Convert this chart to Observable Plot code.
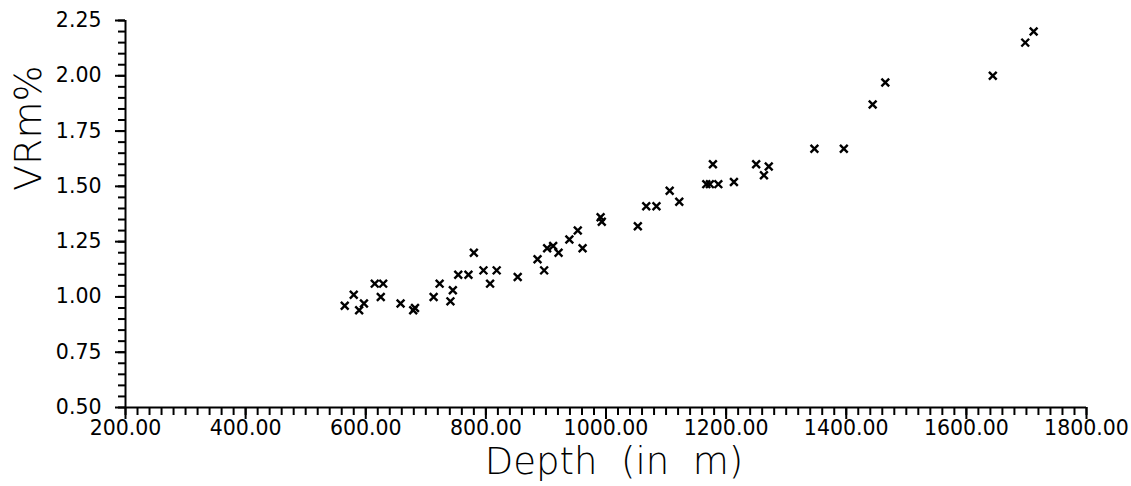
<!DOCTYPE html>
<html>
<head>
<meta charset="utf-8">
<script src="https://cdn.jsdelivr.net/npm/d3@7"></script>
<script src="https://cdn.jsdelivr.net/npm/@observablehq/plot@0.6"></script>
<style>
  html, body { margin: 0; padding: 0; background: #fff; }
  svg text.ttl { white-space: pre; }
</style>
</head>
<body>
<div id="chart"></div>
<script>
// Depth (m) of each sample
const depth = [565, 580, 589, 597, 615, 629, 625, 658, 679, 682,
  713, 723, 741, 745, 754, 771, 780, 796, 807, 818,
  853, 886, 897, 902, 912, 921, 939, 953, 961, 991,
  993, 1053, 1067, 1084, 1106, 1122, 1167, 1173, 1178, 1187,
  1213, 1250, 1263, 1271, 1347, 1396, 1444, 1465, 1644, 1698, 1712];
// Vitrinite reflectance VRm%
const vrm = [0.96, 1.01, 0.94, 0.97, 1.06, 1.06, 1.00, 0.97, 0.94, 0.95,
  1.00, 1.06, 0.98, 1.03, 1.10, 1.10, 1.20, 1.12, 1.06, 1.12,
  1.09, 1.17, 1.12, 1.22, 1.23, 1.20, 1.26, 1.30, 1.22, 1.36,
  1.34, 1.32, 1.41, 1.41, 1.48, 1.43, 1.51, 1.51, 1.60, 1.51,
  1.52, 1.60, 1.55, 1.59, 1.67, 1.67, 1.87, 1.97, 2.00, 2.15, 2.20];

const xMajor = [200, 400, 600, 800, 1000, 1200, 1400, 1600, 1800];
const xMinor = d3.range(200, 1801, 20);
const yMajor = [0.50, 0.75, 1.00, 1.25, 1.50, 1.75, 2.00, 2.25];
const yMinor = d3.range(0, 36).map(i => +(0.5 + i * 0.05).toFixed(2));
const xTitle = ["Depth  (in  m)"];
const yTitle = ["VRm%"];

const rows = depth.map((d, i) => ({depth: d, vrm: vrm[i]}));

const font = "DejaVu Sans";
const chart = Plot.plot({
  width: 1131,
  height: 486,
  marginLeft: 125,
  marginRight: 45,
  marginTop: 20,
  marginBottom: 79,
  style: {fontFamily: font, background: "#fff", color: "#000"},
  x: {domain: [200, 1800], axis: null},
  y: {domain: [0.5, 2.25], axis: null},
  marks: [
    Plot.axisX({ticks: xMinor, tickSize: 8, tickFormat: () => "", strokeWidth: 2, label: null}),
    Plot.axisX({ticks: xMajor, tickSize: 12, tickPadding: 1, tickFormat: d => d.toFixed(2), fontSize: 20.5, strokeWidth: 2, label: null}),
    Plot.axisY({ticks: yMinor, tickSize: 7, tickFormat: () => "", strokeWidth: 2, label: null}),
    Plot.axisY({ticks: yMajor, tickSize: 10, tickPadding: 14, tickFormat: d => d.toFixed(2), fontSize: 20.5, strokeWidth: 2, label: null}),
    Plot.ruleY([0.5], {strokeWidth: 2}),
    Plot.ruleX([200], {strokeWidth: 2}),
    Plot.dot(rows, {x: "depth", y: "vrm", symbol: "times", r: 3.6, stroke: "#000", strokeWidth: 2.4}),
    Plot.text(xTitle, {frameAnchor: "bottom", dx: 8, dy: 55, fontSize: 37, fontWeight: 300, className: "ttl", lineAnchor: "middle"}),
    Plot.text(yTitle, {frameAnchor: "left", dx: -97, dy: -23, rotate: -90, fontSize: 38, fontWeight: 300, lineAnchor: "middle"})
  ]
});
document.getElementById("chart").appendChild(chart);
</script>
</body>
</html>
